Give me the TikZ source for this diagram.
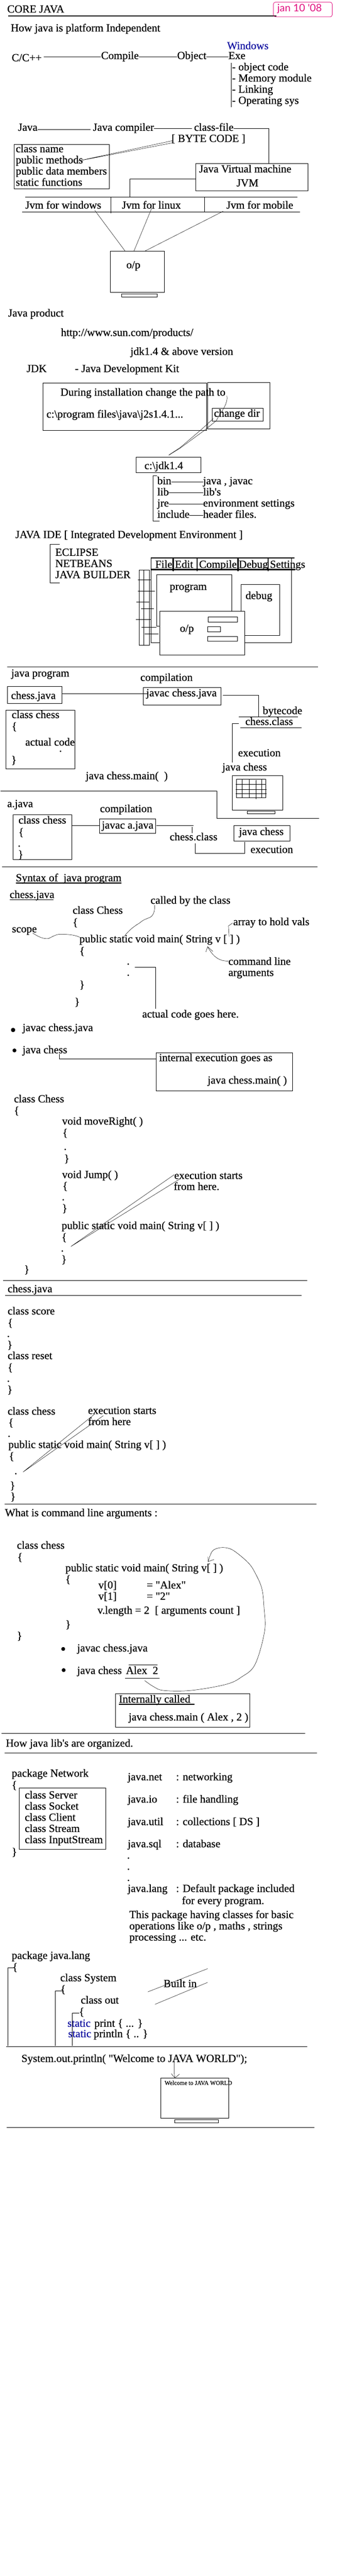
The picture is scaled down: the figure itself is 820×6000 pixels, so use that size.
\documentclass[tikz,border=0pt]{standalone}
\usepackage{fontspec}
\usetikzlibrary{fit}
\newfontfamily\bodyfont[FakeBold=0.45]{Liberation Serif}
\newfontfamily\badgefont{Lato}
\definecolor{pinkink}{HTML}{E0107F}
\definecolor{blueink}{HTML}{1010A0}
\tikzset{
  txt/.style={anchor=base west,inner sep=0pt,outer sep=0pt,text height=17pt,text depth=5.5pt,font=\bodyfont\fontsize{25.5}{26}\selectfont},
  boxst/.style={draw=black,line width=1pt,inner sep=0pt,outer sep=0pt},
  conn/.style={draw=black,line width=1pt},
  thin/.style={draw=black,line width=0.6pt},
  rulel/.style={draw=black,line width=1.1pt},
  heavy/.style={draw=black,line width=3pt,line cap=round},
  ulin/.style={draw=black,line width=1.5pt}
}
\newcommand\T[4][]{\node[txt,#1] (#2) at #3 {#4};}
\newcommand\Bx[6][]{\node[boxst,fit={(#3,#4)(#5,#6)},#1] (#2) {};}
\begin{document}
\begin{tikzpicture}[x=0.526316pt,y=-0.333333pt]
\useasboundingbox (0pt,0pt) rectangle (820pt,-6000pt);
% ---------- 0 - 500
\begin{scope}
\T{title}{(32,88)}{CORE JAVA}
\draw[draw=black,line width=1.8pt] (36,111) -- (1225,111);
\Bx[draw=pinkink,rounded corners=5pt]{badge}{1211}{15}{1472}{118}
\node[anchor=base west,inner sep=0pt,text=pinkink,font=\badgefont\fontsize{24}{26}\selectfont] (badgetxt) at (1228,82) {jan 10 '08};
\T{how}{(48,220)}{How java is platform Independent}
\T{cc}{(52,428)}{C/C++}
\T{comp}{(448,413)}{Compile}
\T{obj}{(785,413)}{Object}
\T{exe}{(1012,413)}{Exe}
\T[text=blueink]{win}{(1006,344)}{Windows}
\draw[conn] ([xshift=5pt]cc.east |- comp.west) -- (comp.west);
\draw[conn] (comp.east) -- (obj.west);
\draw[conn] (obj.east) -- (exe.west);
\draw[conn] (1025,438) -- (1025,750);
\T{e1}{(1028,492)}{- object code}
\T{e2}{(1028,570)}{- Memory module}
\T{e3}{(1028,648)}{- Linking}
\T{e4}{(1028,726)}{- Operating sys}
\T{jav}{(80,914)}{Java}
\T{jc}{(412,914)}{Java compiler}
\T{cf}{(860,914)}{class-file}
\T{bc}{(760,992)}{[ BYTE CODE ]}
\draw[conn] ([yshift=-2.5pt]jav.east) -- ([xshift=-6pt,yshift=-2.5pt]jc.west);
\draw[conn] (jc.east) -- ([xshift=-5pt]cf.west);
\Bx{cbox}{62}{1010}{485}{1318}
\T{c1}{(70,1064)}{class name}
\T{c2}{(70,1142)}{public methods}
\T{c3}{(70,1220)}{public data members}
\T{c4}{(70,1298)}{static functions}
\coordinate (bca) at (765,983);
\coordinate (bcb) at (765,998);
\coordinate (pm) at (345,1125);
\draw[thin] (bca) -- (pm) -- (bcb);
\Bx{jvm}{867}{1141}{1364}{1333}
\T{j1}{(882,1205)}{Java Virtual machine}
\T{j2}{(1048,1303)}{JVM}
\coordinate (jvmin) at (1190,1141);
\draw[conn] (cf.east) -| (jvmin);
\coordinate (jr) at (575,1378);
\draw[conn] ([yshift=-4pt]jvm.west) -| (jr);
\draw[rulel] (111,1378) -- (1317,1378);
\draw[rulel] (99,1480) -- (1330,1480);
\draw[conn] (490,1375) -- (490,1492);
\draw[conn] (907,1380) -- (907,1482);
\T{jw}{(112,1458)}{Jvm for windows}
\T{jl}{(540,1458)}{Jvm for linux}
\T{jm}{(1003,1458)}{Jvm for mobile}
\Bx{op}{489}{1756}{728}{2044}
\coordinate (jwf) at (420,1470);
\coordinate (jlf) at (672,1455);
\coordinate (jmf) at (990,1475);
\coordinate (opa) at (555,1756);
\coordinate (opb) at (593,1756);
\coordinate (opc) at (640,1756);
\draw[thin] (jwf) -- (opa);
\draw[thin] (jlf) -- (opb);
\draw[thin] (jmf) -- (opc);
\end{scope}
% ---------- 500 - 1000
\begin{scope}[yshift=-500pt]
\Bx{opstand}{540}{553}{697}{575}
\T{optxt}{(560,375)}{o/p}
\T{jp}{(36,712)}{Java product}
\T{url}{(270,848)}{http://www.sun.com/products/}
\T{jdkv}{(578,980)}{jdk1.4 \& above version}
\T{jdk}{(118,1100)}{JDK}
\T{jdkn}{(332,1100)}{- Java Development Kit}
\Bx{inst}{190}{1175}{915}{1507}
\Bx{cdo}{919}{1172}{1196}{1498}
\Bx{cdi}{940}{1354}{1165}{1444}
\T{during}{(268,1265)}{During installation change the path to}
\T{pf}{(206,1418)}{c:\textbackslash program files\textbackslash java\textbackslash j2s1.4.1...}
\T{cd}{(948,1412)}{change dir}
\coordinate (cva) at (1005,1265);
\coordinate (cvb) at (972,1400);
\coordinate (cvc) at (958,1440);
\coordinate (cvd) at (905,1508);
\coordinate (cve) at (795,1635);
\coordinate (cvf) at (748,1680);
\coordinate (cvg) at (945,1425);
\coordinate (cvh) at (893,1500);
\coordinate (cvi) at (800,1625);
\draw[thin] (cva) .. controls (1012,1310) and (985,1370) .. (cvb) -- (cvc) -- (cvd) -- (cve) -- (cvf);
\draw[thin] (cvg) -- (cvh) -- (cvi) -- (cvf);
\end{scope}
% ---------- 1000 - 1500
\begin{scope}[yshift=-1000pt]
\Bx{jdkbox}{603}{196}{890}{304}
\T{jdkt}{(640,278)}{c:\textbackslash jdk1.4}
\draw[conn] (695,325) -- (677,325) -- (677,640) -- (707,640);
\T{b1}{(697,384)}{bin}
\T{b2}{(900,384)}{java , javac}
\T{l1}{(697,462)}{lib}
\T{l2}{(900,462)}{lib's}
\T{r1}{(697,540)}{jre}
\T{r2}{(900,540)}{environment settings}
\T{i1}{(697,618)}{include}
\T{i2}{(900,618)}{header files.}
\draw[conn] (b1.east) -- (b2.west);
\draw[conn] (l1.east) -- (l2.west);
\draw[conn] (r1.east) -- (r2.west);
\draw[conn] (i1.east) -- (i2.west);
\T{ide}{(68,760)}{JAVA IDE [ Integrated Development Environment ]}
\draw[conn] (265,802) -- (223,802) -- (223,1072) -- (265,1072);
\T{ec}{(245,884)}{ECLIPSE}
\T{nb}{(245,962)}{NETBEANS}
\T{jb}{(245,1040)}{JAVA BUILDER}
\Bx{winout}{670}{898}{1292}{1492}
\draw[heavy] (672,898) -- (1303,898);
\draw[heavy] (670,980) -- (1307,980);
\foreach \mx in {767,873,1054,1188}{\draw[heavy] (\mx,905) -- (\mx,988);}
\T{mf}{(688,968)}{File}
\T{me}{(775,968)}{Edit}
\T{mc}{(882,968)}{Compile}
\T{md}{(1058,968)}{Debug}
\T{ms}{(1196,968)}{Settings}
\Bx{prog}{693}{1016}{1028}{1375}
\T{progt}{(752,1122)}{program}
\Bx{dbg}{1068}{1084}{1238}{1441}
\T{dbgt}{(1088,1186)}{debug}
\Bx[fill=white]{opw}{707}{1271}{1085}{1576}
\T{opwt}{(797,1415)}{o/p}
\Bx{r1b}{921}{1309}{1053}{1348}
\Bx{r2b}{919}{1379}{976}{1414}
\Bx{r3b}{919}{1447}{1051}{1480}
\draw[conn] (617,1507) -- (617,983) -- (663,983) -- (663,1507) -- cycle;
\draw[conn] (637,983) -- (637,1507);
\draw[conn] (611,1051) -- (667,1051);
\draw[conn] (612,1129) -- (686,1129);
\draw[conn] (605,1205) -- (664,1205);
\draw[conn] (624,1252) -- (681,1252);
\draw[conn] (603,1327) -- (670,1327);
\draw[conn] (626,1381) -- (692,1381);
\draw[conn] (640,1429) -- (702,1429);
\end{scope}
% ---------- 1500 - 2000
\begin{scope}[yshift=-1500pt]
\draw[rulel] (31,160) -- (1408,160);
\T{jpr}{(50,228)}{java program}
\T{cmp}{(622,258)}{compilation}
\Bx{cj}{33}{295}{274}{415}
\T{cjt}{(49,384)}{chess.java}
\Bx{jcj}{634}{304}{980}{427}
\T{jcjt}{(648,366)}{javac chess.java}
\coordinate (cjin) at (655,346);
\draw[conn] (cj.east |- cjin) -- (cjin);
\coordinate (jcjo) at (987,358);
\coordinate (bcin) at (1146,511);
\draw[conn] (jcjo) -| (bcin);
\T{bct}{(1164,490)}{bytecode}
\draw[rulel] (1057,511) -- (1320,511);
\T{chc}{(1087,566)}{chess.class}
\draw[rulel] (1065,586) -- (1335,586);
\coordinate (chco) at (1058,556);
\coordinate (jch) at (1030,828);
\draw[conn] (chco) -| (jch);
\T{ex}{(1055,785)}{execution}
\T{jct}{(985,884)}{java chess}
\Bx{mon}{1030}{919}{1253}{1160}
\Bx{mons}{1095}{1168}{1219}{1187}
\Bx{grid}{1047}{946}{1177}{1073}
\draw[conn] (1072,946) -- (1072,1073);
\draw[conn] (1104,946) -- (1104,1073);
\draw[conn] (1133,950) -- (1133,1083);
\draw[conn] (1159,946) -- (1159,1078);
\draw[conn] (1045,982) -- (1177,982);
\draw[conn] (1045,1015) -- (1182,1015);
\draw[conn] (1045,1045) -- (1180,1045);
\Bx{ccb}{26}{461}{332}{871}
\T{ccl}{(52,518)}{class chess}
\T{ccb1}{(52,600)}{\{}
\T{cca}{(112,710)}{actual code}
\T{ccd}{(262,753)}{.}
\T{ccb2}{(50,835)}{\}}
\T{jcm}{(380,945)}{java chess.main(\ \ )}
\draw[rulel] (2,1027) -- (961,1027) -- (961,1217) -- (1413,1217);
\T{aj}{(32,1140)}{a.java}
\T{cmp2}{(443,1175)}{compilation}
\Bx{ccc}{58}{1192}{318}{1507}
\T{cc1}{(82,1255)}{class chess}
\T{cc2}{(82,1340)}{\{}
\T{cc3}{(79,1416)}{.}
\T{cc4}{(80,1495)}{\}}
\Bx{jaj}{441}{1222}{689}{1324}
\T{jajt}{(451,1290)}{javac a.java}
\coordinate (aout) at (857,1270);
\coordinate (ain) at (318,1270);
\coordinate (ajw) at (441,1270);
\coordinate (aje) at (692,1270);
\draw[conn] (ain) -- (ajw);
\draw[conn] (aje) -- (aout);
\coordinate (cva1) at (852,1278);
\coordinate (cva2) at (852,1320);
\draw[conn] (cva1) -- (cva2);
\T{chc2}{(752,1372)}{chess.class}
\Bx{jcb}{1035}{1270}{1284}{1376}
\T{jcbt}{(1059,1335)}{java chess}
\coordinate (ch2o) at (866,1392);
\coordinate (ch2m) at (866,1462);
\coordinate (ch2n) at (1083,1462);
\coordinate (ch2e) at (1083,1384);
\draw[conn] (ch2o) -- (ch2m) -- (ch2n) -- (ch2e);
\T{ex2}{(1110,1460)}{execution}
\end{scope}
% ---------- 2000 - 2500
\begin{scope}[yshift=-2000pt]
\draw[rulel] (10,58) -- (1407,58);
\T{syn}{(70,158)}{Syntax of\ \ java program}
\draw[ulin] (70,170) -- (538,170);
\T{cjh}{(43,275)}{chess.java}
\draw[ulin] (43,287) -- (237,287);
\T{cbc}{(667,315)}{called by the class}
\T{cch}{(322,385)}{class Chess}
\T{s1}{(322,470)}{\{}
\T{sc}{(53,515)}{scope}
\T{psv}{(352,585)}{public static void main( String v [ ] )}
\T{s2}{(352,670)}{\{}
\T{arr}{(1033,465)}{array to hold vals}
\coordinate (sca) at (145,520);
\draw[thin] (sca) .. controls (170,545) and (190,562) .. (215,558) .. controls (230,548) and (245,530) .. (265,528) .. controls (300,528) and (330,532) .. (352,548);
\coordinate (cbca) at (685,325);
\coordinate (cbcb) at (550,545);
\draw[thin] (cbca) .. controls (686,370) and (680,395) .. (665,410) .. controls (640,425) and (630,432) .. (620,448) .. controls (590,475) and (565,510) .. (cbcb);
\coordinate (arra) at (1030,450);
\coordinate (arrb) at (1012,470);
\coordinate (arrc) at (1015,545);
\draw[thin] (arra) -- (arrb) -- (arrc);
\T{cl1}{(1012,742)}{command line}
\T{cl2}{(1012,820)}{arguments}
\coordinate (cltip) at (920,615);
\coordinate (cls) at (1012,715);
\draw[thin] (cls) .. controls (975,718) and (945,690) .. (cltip);
\draw[thin] (912,652) -- (cltip) -- (943,648);
\T{d1}{(562,740)}{.}
\T{d2}{(562,818)}{.}
\coordinate (aca) at (598,758);
\coordinate (acb) at (689,1050);
\draw[conn] (aca) -| (acb);
\T{s3}{(352,905)}{\}}
\T{s4}{(330,1025)}{\}}
\T{acg}{(630,1110)}{actual code goes here.}
\fill[black] (58,1197) ellipse [x radius=5pt,y radius=5pt];
\T{bl1}{(100,1205)}{javac chess.java}
\fill[black] (64,1340) ellipse [x radius=4.5pt,y radius=4.5pt];
\T{bl2}{(100,1360)}{java chess}
\Bx{iex}{691}{1355}{1295}{1621}
\T{iext}{(705,1415)}{internal execution goes as}
\coordinate (bl2c) at (263,1365);
\coordinate (iexc) at (691,1398);
\draw[conn] (bl2c) |- (iexc);
\T{jmain}{(920,1572)}{java chess.main( )}
\end{scope}
% ---------- 2500 - 3000
\begin{scope}[yshift=-2500pt]
\T{k1}{(62,203)}{class Chess}
\T{k2}{(62,285)}{\{}
\T{k3}{(275,358)}{void moveRight( )}
\T{k4}{(277,440)}{\{}
\T{k5}{(283,535)}{.}
\T{k6}{(284,620)}{\}}
\T{k7}{(275,732)}{void Jump( )}
\T{k8}{(277,812)}{\{}
\T{k9}{(274,887)}{.}
\T{k10}{(275,968)}{\}}
\T{k11}{(273,1088)}{public static void main( String v[ ] )}
\T{k12}{(273,1170)}{\{}
\T{k13}{(270,1245)}{.}
\T{k14}{(272,1325)}{\}}
\T{k15}{(107,1395)}{\}}
\T{k16}{(772,738)}{execution starts}
\T{k17}{(770,815)}{from here.}
\coordinate (ksa) at (772,708);
\coordinate (ksb) at (797,738);
\coordinate (kse) at (314,1210);
\draw[thin] (ksa) -- (kse) -- (ksb);
\draw[rulel] (13,1447) -- (1360,1447);
\end{scope}
% ---------- 3000 - 3500
\begin{scope}[yshift=-3000pt]
\T{m1}{(34,30)}{chess.java}
\draw[rulel] (22,52) -- (1335,52);
\T{m2}{(34,185)}{class score}
\T{m3}{(34,268)}{\{}
\T{m4}{(31,342)}{.}
\T{m5}{(32,422)}{\}}
\T{m6}{(34,497)}{class reset}
\T{m7}{(34,580)}{\{}
\T{m8}{(31,655)}{.}
\T{m9}{(32,735)}{\}}
\T{m10}{(34,885)}{class chess}
\T{m11}{(37,965)}{\{}
\T{m12}{(34,1040)}{.}
\T{m13}{(37,1118)}{public static void main( String v[ ] )}
\T{m14}{(40,1200)}{\{}
\T{m15}{(64,1301)}{.}
\T{m16}{(44,1405)}{\}}
\T{m17}{(46,1482)}{\}}
\T{m18}{(390,880)}{execution starts}
\T{m19}{(390,958)}{from here}
\coordinate (msa) at (420,880);
\coordinate (msb) at (458,892);
\coordinate (mse) at (102,1286);
\draw[thin] (msa) -- (mse) -- (msb);
\end{scope}
% ---------- 3500 - 4000
\begin{scope}[yshift=-3500pt]
\draw[rulel] (20,10) -- (1402,10);
\T{n1}{(22,95)}{What is command line arguments :}
\T{n2}{(75,322)}{class chess}
\T{n3}{(77,405)}{\{}
\T{n4}{(290,480)}{public static void main( String v[ ] )}
\T{n5}{(290,560)}{\{}
\T{n6}{(436,600)}{v[0]}
\T{n7}{(650,600)}{= "Alex"}
\T{n8}{(436,678)}{v[1]}
\T{n9}{(650,678)}{= "2"}
\T{n10}{(432,776)}{v.length = 2\ \ [ arguments count ]}
\T{n11}{(290,875)}{\}}
\T{n12}{(75,955)}{\}}
\fill[black] (280,1022) ellipse [x radius=4.5pt,y radius=4.5pt];
\T{n13}{(342,1040)}{javac chess.java}
\fill[black] (282,1170) ellipse [x radius=4.5pt,y radius=4.5pt];
\T{n14}{(342,1197)}{java chess}
\T{n15}{(558,1197)}{Alex\ \ 2}
\draw[conn] (570,1132) -- (697,1132);
\draw[conn] (553,1225) -- (707,1225);
\coordinate (alx) at (641,1243);
\coordinate (vtip) at (922,412);
\draw[thin] plot[smooth,tension=0.6] coordinates {(alx) (680,1285) (725,1312) (845,1312) (1000,1270) (1070,1218) (1130,1130) (1172,900) (1170,740) (1160,600) (1130,490) (1100,420) (1040,340) (1005,316) (970,316) (940,340) (vtip)};
\draw[thin] (948,397) -- (vtip) -- (921,378);
\Bx{ic}{512}{1333}{1106}{1567}
\T{ict}{(527,1397)}{Internally called}
\draw[ulin] (527,1409) -- (862,1409);
\T{icm}{(570,1522)}{java chess.main ( Alex , 2 )}
\end{scope}
% ---------- 4000 - 4500
\begin{scope}[yshift=-4000pt]
\draw[rulel] (6,112) -- (1352,112);
\T{o1}{(26,205)}{How java lib's are organized.}
\draw[rulel] (21,247) -- (1405,247);
\T{o2}{(52,415)}{package Network}
\T{o3}{(52,498)}{\{}
\Bx{net}{85}{493}{469}{922}
\T{o4}{(110,567)}{class Server}
\T{o5}{(110,645)}{class Socket}
\T{o6}{(110,723)}{class Client}
\T{o7}{(110,801)}{class Stream}
\T{o8}{(110,879)}{class InputStream}
\T{o9}{(52,965)}{\}}
\T{p1}{(566,440)}{java.net}
\T{p2}{(780,440)}{: networking}
\T{p3}{(566,596)}{java.io}
\T{p4}{(780,596)}{: file handling}
\T{p5}{(566,753)}{java.util}
\T{p6}{(780,753)}{: collections [ DS ]}
\T{p7}{(566,908)}{java.sql}
\T{p8}{(780,908)}{: database}
\T{p9}{(563,987)}{.}
\T{p10}{(563,1065)}{.}
\T{p11}{(563,1143)}{.}
\T{p12}{(566,1220)}{java.lang}
\T{p13}{(780,1220)}{: Default package included}
\T{p14}{(806,1305)}{for every program.}
\T{p15}{(573,1403)}{This package having classes for basic}
\T{p16}{(573,1482)}{operations like o/p , maths , strings}
\end{scope}
% ---------- 4500 - 5000
\begin{scope}[yshift=-4500pt]
\T{q1}{(573,60)}{processing ... etc.}
\T{q2}{(52,188)}{package java.lang}
\T{q3}{(55,270)}{\{}
\draw[conn] (62,250) -- (35,250) -- (35,795);
\T{q4}{(267,344)}{class System}
\T{q5}{(268,425)}{\{}
\draw[conn] (278,412) -- (244,412) -- (244,795);
\T{q6}{(358,500)}{class out}
\T{q7}{(350,582)}{\{}
\T[text=blueink]{q8}{(299,662)}{static}
\T{q9}{(418,662)}{print \{ ... \}}
\T[text=blueink]{q10}{(302,735)}{static}
\T{q11}{(415,735)}{println \{ .. \}}
\draw[conn] (352,568) -- (320,568) -- (320,795);
\T{q12}{(725,385)}{Built in}
\draw[thin] (655,418) -- (920,256);
\draw[thin] (687,505) -- (920,352);
\draw[rulel] (28,799) -- (1360,799);
\T{q13}{(95,908)}{System.out.println( "Welcome to JAVA WORLD");}
\Bx{wm}{712}{1021}{1014}{1300}
\Bx{wms}{773}{1312}{968}{1333}
\node[anchor=base west,inner sep=0pt,font=\bodyfont\fontsize{14}{15}\selectfont] (q14) at (729,1068) {Welcome to JAVA WORLD};
\coordinate (sysa) at (772,905);
\coordinate (syst) at (775,1020);
\draw[thin] (sysa) -- (772,990) -- (syst);
\draw[thin] (759,990) -- (syst) -- (795,993);
\draw[rulel] (29,1365) -- (1392,1365);
\end{scope}
\end{tikzpicture}
\end{document}
